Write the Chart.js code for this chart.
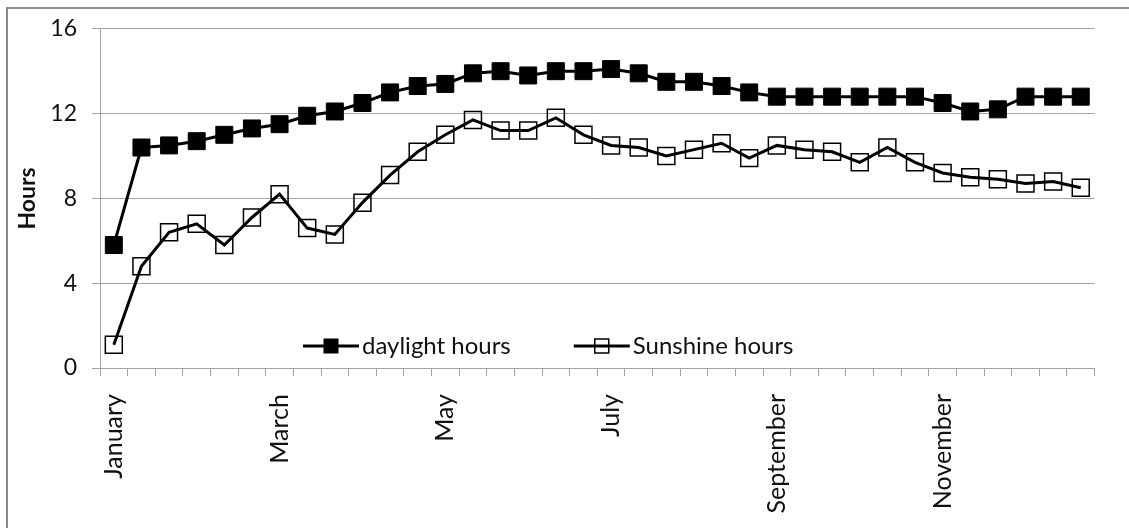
<!DOCTYPE html>
<html>
<head>
<meta charset="utf-8">
<title>Daylight and sunshine hours</title>
<script src="https://cdn.jsdelivr.net/npm/chart.js@4.4.0/dist/chart.umd.min.js"></script>
<style>
  html, body { margin: 0; padding: 0; background: #fff; }
  #wrap { position: relative; width: 1129px; height: 528px; overflow: hidden; }
  #frame { position: absolute; left: 6px; top: 7px; width: 1200px; height: 600px;
           border-top: 2px solid #8c8c8c; border-left: 2px solid #8c8c8c; }
  #c { position: absolute; left: 0; top: 0; }
</style>
</head>
<body>
<div id="wrap">
  <div id="frame"></div>
  <canvas id="c" width="1129" height="528"></canvas>
</div>
<script>
// Three ten-day periods per month, one value each
const months = ['January', 'February', 'March', 'April', 'May', 'June',
                'July', 'August', 'September', 'October', 'November', 'December'];
const periodsPerMonth = 3;
const labelEvery = 6; // a month name under every other month

const daylightHours = [5.8, 10.4, 10.5, 10.7, 11.0, 11.3, 11.5, 11.9, 12.1, 12.5, 13.0, 13.3,
                       13.4, 13.9, 14.0, 13.8, 14.0, 14.0, 14.1, 13.9, 13.5, 13.5, 13.3, 13.0,
                       12.8, 12.8, 12.8, 12.8, 12.8, 12.8, 12.5, 12.1, 12.2, 12.8, 12.8, 12.8];
const sunshineHours = [1.1, 4.8, 6.4, 6.8, 5.8, 7.1, 8.2, 6.6, 6.3, 7.8, 9.1, 10.2,
                       11.0, 11.7, 11.2, 11.2, 11.8, 11.0, 10.5, 10.4, 10.0, 10.3, 10.6, 9.9,
                       10.5, 10.3, 10.2, 9.7, 10.4, 9.7, 9.2, 9.0, 8.9, 8.7, 8.8, 8.5];
const yTicks = [0, 4, 8, 12, 16];

const categories = months.flatMap(m => Array(periodsPerMonth).fill(m));

const FONT = 'Lato, "Open Sans", sans-serif';
const GRID = '#a3a3a3';
const INK = '#111';

// Legend drawn inside the plot: a short line with the series marker, then the name
const lineLegend = {
  id: 'lineLegend',
  afterDraw(chart, args, opts) {
    const { ctx, chartArea } = chart;
    let x = chartArea.left + opts.offsetX;
    const y = chartArea.bottom - opts.offsetY;
    ctx.save();
    ctx.font = opts.font;
    ctx.textBaseline = 'middle';
    ctx.textAlign = 'left';
    chart.data.datasets.forEach(ds => {
      ctx.strokeStyle = ds.borderColor;
      ctx.lineWidth = ds.borderWidth;
      ctx.beginPath();
      ctx.moveTo(x, y);
      ctx.lineTo(x + opts.symbolWidth, y);
      ctx.stroke();
      const s = opts.markerSize;
      const cx = x + opts.symbolWidth / 2;
      ctx.fillStyle = ds.pointBackgroundColor;
      ctx.fillRect(cx - s / 2, y - s / 2, s, s);
      ctx.lineWidth = ds.pointBorderWidth;
      ctx.strokeStyle = ds.pointBorderColor;
      ctx.strokeRect(cx - s / 2, y - s / 2, s, s);
      ctx.fillStyle = opts.color;
      const tx = x + opts.symbolWidth + opts.textGap;
      ctx.fillText(ds.label, tx, y);
      x = tx + ctx.measureText(ds.label).width + opts.itemGap;
    });
    ctx.restore();
  }
};

new Chart(document.getElementById('c'), {
  type: 'line',
  data: {
    labels: categories,
    datasets: [
      {
        label: 'daylight hours',
        data: daylightHours,
        borderColor: '#000',
        borderWidth: 3,
        tension: 0,
        pointStyle: 'rect',
        pointRadius: 12,
        pointBackgroundColor: '#000',
        pointBorderColor: '#000',
        pointBorderWidth: 1
      },
      {
        label: 'Sunshine hours',
        data: sunshineHours,
        borderColor: '#000',
        borderWidth: 3,
        tension: 0,
        pointStyle: 'rect',
        pointRadius: 12,
        pointBackgroundColor: 'rgba(0,0,0,0)',
        pointBorderColor: '#000',
        pointBorderWidth: 1.5
      }
    ]
  },
  options: {
    responsive: false,
    devicePixelRatio: 1,
    animation: false,
    events: [],
    layout: { padding: { left: 0, top: 26, right: 18, bottom: 0 } },
    plugins: {
      legend: { display: false },
      tooltip: { enabled: false },
      lineLegend: {
        offsetX: 203, offsetY: 22, symbolWidth: 56, markerSize: 14,
        textGap: 3, itemGap: 63, font: '24px ' + FONT, color: INK
      }
    },
    scales: {
      x: {
        offset: true,
        grid: { display: true, drawOnChartArea: false, drawTicks: true, tickLength: 8,
                offset: true, color: GRID },
        border: { display: true, color: GRID, width: 1 },
        ticks: {
          autoSkip: false, minRotation: 90, maxRotation: 90, padding: 18,
          color: INK, font: { family: FONT, size: 25 },
          callback: (v, i) => (i % labelEvery === 0 ? categories[i] : '')
        },
        afterFit: s => { s.height = 160; }
      },
      y: {
        min: yTicks[0],
        max: yTicks[yTicks.length - 1],
        afterBuildTicks: s => { s.ticks = yTicks.map(v => ({ value: v })); },
        grid: { color: GRID, tickLength: 8, drawTicks: true },
        border: { display: true, color: GRID, width: 1 },
        ticks: { padding: 15, color: INK, font: { family: FONT, size: 23 } },
        title: {
          display: true, text: 'Hours', color: INK,
          font: { family: FONT, size: 23, weight: 'bold' },
          padding: { top: 14, bottom: 0 }
        },
        afterFit: s => { s.width = 100; }
      }
    }
  },
  plugins: [lineLegend]
});
</script>
</body>
</html>
